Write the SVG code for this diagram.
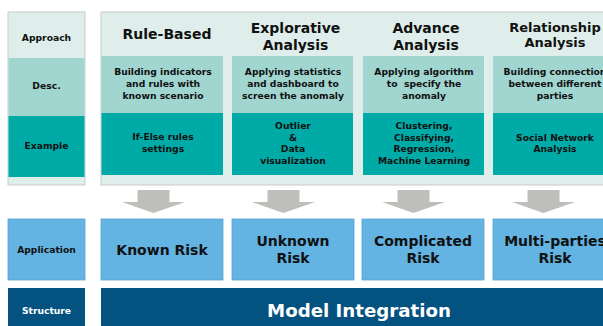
<svg xmlns="http://www.w3.org/2000/svg" width="603" height="326" viewBox="0 0 603 326">
<style>
text{font-family:"DejaVu Sans","Verdana",sans-serif;font-weight:bold;text-anchor:middle;fill:#111}
.lbl{font-size:9.2px}
.ttl{font-size:14px}
.dsc{font-size:9.2px}
.app{font-size:14px}
.light{fill:#DFEEEA}
.desc{fill:#A0D5D0}
.ex{fill:#00AAA6}
.appf{fill:#63B3E3;stroke:#5AA3D3;stroke-width:0.8}
.st{fill:#03527F}
.arrow{fill:#BEBEBA}
</style>
<rect width="603" height="326" fill="#fff"/>
<g id="left-column">
<rect x="8" y="12" width="77" height="173" class="light" stroke="#C8CCCA" stroke-width="1"/>
<rect x="8.5" y="58" width="76" height="58" class="desc"/>
<rect x="8.5" y="116" width="76" height="61" class="ex"/>
<text class="lbl" x="46.5" y="41">Approach</text>
<text class="lbl" x="46.5" y="89">Desc.</text>
<text class="lbl" x="46.5" y="149">Example</text>
</g>
<g id="panel">
<rect x="101" y="12" width="510" height="173" class="light" stroke="#C8CCCA" stroke-width="1"/>
</g>
<g id="rule-based">
<rect x="101.5" y="56" width="121.5" height="57" class="desc"/>
<rect x="101.5" y="113" width="121.5" height="62" class="ex"/>
<text class="ttl" x="167" y="39">Rule-Based</text>
<text class="dsc" x="163" y="75">Building indicators</text>
<text class="dsc" x="163" y="87">and rules with</text>
<text class="dsc" x="163" y="99">known scenario</text>
<text class="dsc" x="163" y="140">If-Else rules</text>
<text class="dsc" x="163" y="152">settings</text>
</g>
<g id="explorative">
<rect x="232" y="56" width="121" height="57" class="desc"/>
<rect x="232" y="113" width="121" height="62" class="ex"/>
<text class="ttl" x="295.5" y="33">Explorative</text>
<text class="ttl" x="295.5" y="50">Analysis</text>
<text class="dsc" x="293" y="75">Applying statistics</text>
<text class="dsc" x="293" y="87">and dashboard to</text>
<text class="dsc" x="293" y="99">screen the anomaly</text>
<text class="dsc" x="293" y="129">Outlier</text>
<text class="dsc" x="293" y="141">&amp;</text>
<text class="dsc" x="293" y="152">Data</text>
<text class="dsc" x="293" y="164">visualization</text>
</g>
<g id="advance">
<rect x="363" y="56" width="121" height="57" class="desc"/>
<rect x="363" y="113" width="121" height="62" class="ex"/>
<text class="ttl" x="426" y="33">Advance</text>
<text class="ttl" x="426" y="50">Analysis</text>
<text class="dsc" x="424" y="75">Applying algorithm</text>
<text class="dsc" x="424" y="87" xml:space="preserve">to  specify the</text>
<text class="dsc" x="424" y="99">anomaly</text>
<text class="dsc" x="424" y="129">Clustering,</text>
<text class="dsc" x="424" y="141">Classifying,</text>
<text class="dsc" x="424" y="152">Regression,</text>
<text class="dsc" x="424" y="164">Machine Learning</text>
</g>
<g id="relationship">
<rect x="493" y="56" width="121" height="57" class="desc"/>
<rect x="493" y="113" width="121" height="62" class="ex"/>
<text class="ttl" x="555" y="32" style="font-size:13px">Relationship</text>
<text class="ttl" x="555" y="47" style="font-size:13px">Analysis</text>
<text class="dsc" x="555" y="75">Building connection</text>
<text class="dsc" x="555" y="87">between different</text>
<text class="dsc" x="555" y="99">parties</text>
<text class="dsc" x="555" y="141">Social Network</text>
<text class="dsc" x="555" y="152">Analysis</text>
</g>
<g id="connectors">
<path class="arrow" d="M137.5,190 h32 v12 h15.5 l-31.5,11 l-31.5,-11 h15.5 z"/>
<path class="arrow" d="M267.5,190 h32 v12 h15.5 l-31.5,11 l-31.5,-11 h15.5 z"/>
<path class="arrow" d="M397.5,190 h32 v12 h15.5 l-31.5,11 l-31.5,-11 h15.5 z"/>
<path class="arrow" d="M527.5,190 h32 v12 h15.5 l-31.5,11 l-31.5,-11 h15.5 z"/>
</g>
<g id="application-label">
<rect x="8" y="219" width="77" height="61" class="appf"/>
<text class="lbl" x="46.5" y="253">Application</text>
</g>
<g id="known-risk">
<rect x="101" y="219" width="122" height="61" class="appf"/>
<text class="app" x="162" y="255">Known Risk</text>
</g>
<g id="unknown-risk">
<rect x="232" y="219" width="122" height="61" class="appf"/>
<text class="app" x="293" y="246">Unknown</text>
<text class="app" x="293" y="263">Risk</text>
</g>
<g id="complicated-risk">
<rect x="362" y="219" width="122" height="61" class="appf"/>
<text class="app" x="423" y="246">Complicated</text>
<text class="app" x="423" y="263">Risk</text>
</g>
<g id="multi-risk">
<rect x="493" y="219" width="122" height="61" class="appf"/>
<text class="app" x="555" y="246">Multi-parties</text>
<text class="app" x="555" y="263">Risk</text>
</g>
<g id="structure-label">
<rect x="8" y="288" width="77" height="40" class="st"/>
<text class="lbl" x="46.5" y="314" style="fill:#fff">Structure</text>
</g>
<g id="model-integration">
<rect x="101" y="288" width="510" height="40" class="st"/>
<text x="359" y="317" style="font-size:18.2px;fill:#fff">Model Integration</text>
</g>
</svg>
